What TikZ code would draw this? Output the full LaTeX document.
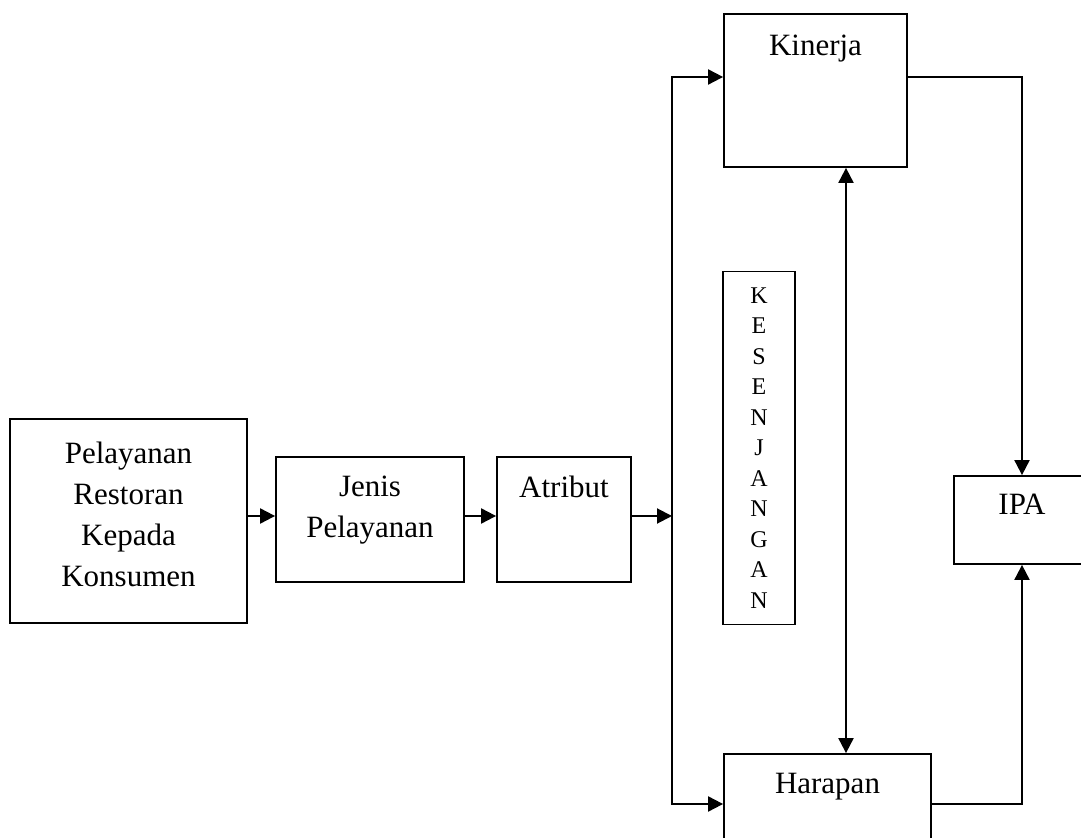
\documentclass[tikz,border=0pt]{standalone}
\usepackage{fontspec}
\setmainfont{Liberation Serif}
\usepackage{tikz}
\usetikzlibrary{arrows.meta, positioning, calc}

\begin{document}
\begin{tikzpicture}[x=0.5pt, y=-0.5pt,
        box/.style={draw, line width=0.9pt, inner sep=0pt},
        teks/.style={font=\fontsize{15.5}{20.5}\selectfont, align=center, anchor=north, inner sep=0pt},
        arr/.style={line width=1pt, -{Triangle[length=7.5pt, width=7.5pt]}},
        arr2/.style={line width=1pt, {Triangle[length=7.5pt, width=7.5pt]}-{Triangle[length=7.5pt, width=7.5pt]}}]
            \useasboundingbox (0,0) rectangle (1081,838);
            \clip (0,0) rectangle (1081,838);

            % Kotak-kotak
            \node[box, minimum width=118.5pt, minimum height=102pt,
                label={[teks, yshift=-11.5pt]north:Pelayanan\\Restoran\\Kepada\\Konsumen}] (pel) at (128.5,521) {};
            \node[box, minimum width=94pt, minimum height=62.5pt,
                label={[teks, yshift=-9.5pt]north:Jenis\\Pelayanan}] (jen) at (370,519.5) {};
            \node[box, minimum width=67pt, minimum height=62.5pt,
                label={[teks, yshift=-9.5pt]north:Atribut}] (atr) at (564,519.5) {};
            \node[box, minimum width=91.5pt, minimum height=76.5pt,
                label={[teks, yshift=-10.5pt]north:Kinerja}] (kin) at (815.5,90.5) {};
            \node[box, minimum width=103.5pt, minimum height=64pt,
                label={[teks, yshift=-10pt]north:Harapan}] (har) at (827.5,818) {};
            \node[box, minimum width=68pt, minimum height=44pt,
                label={[teks, yshift=-9.5pt]north:IPA}] (ipa) at (1022,520) {};
            \node[box, minimum width=36pt, minimum height=176.5pt, align=center,
                font=\fontsize{12}{15.25}\selectfont] (kes) at (759,448)
                {K\\E\\S\\E\\N\\J\\A\\N\\G\\A\\N};

            % Percabangan
            \coordinate (cab) at (672,516);

            \draw[arr] (pel.east |- cab) -- (jen.west |- cab);
            \draw[arr] (jen.east |- cab) -- (atr.west |- cab);
            \draw[arr] (atr.east |- cab) -- (cab);
            \draw[arr] (cab) |- ([yshift=6.75pt]kin.west);
            \draw[arr] (cab) |- ([yshift=7pt]har.west);

            \draw[arr] ([yshift=6.75pt]kin.east) -| (ipa.north);
            \draw[arr] ([yshift=7pt]har.east) -| (ipa.south);
            \draw[arr2] ([xshift=15.25pt]kin.south) -- ([xshift=15.25pt]kin.south |- har.north);
        \end{tikzpicture}
\end{document}
